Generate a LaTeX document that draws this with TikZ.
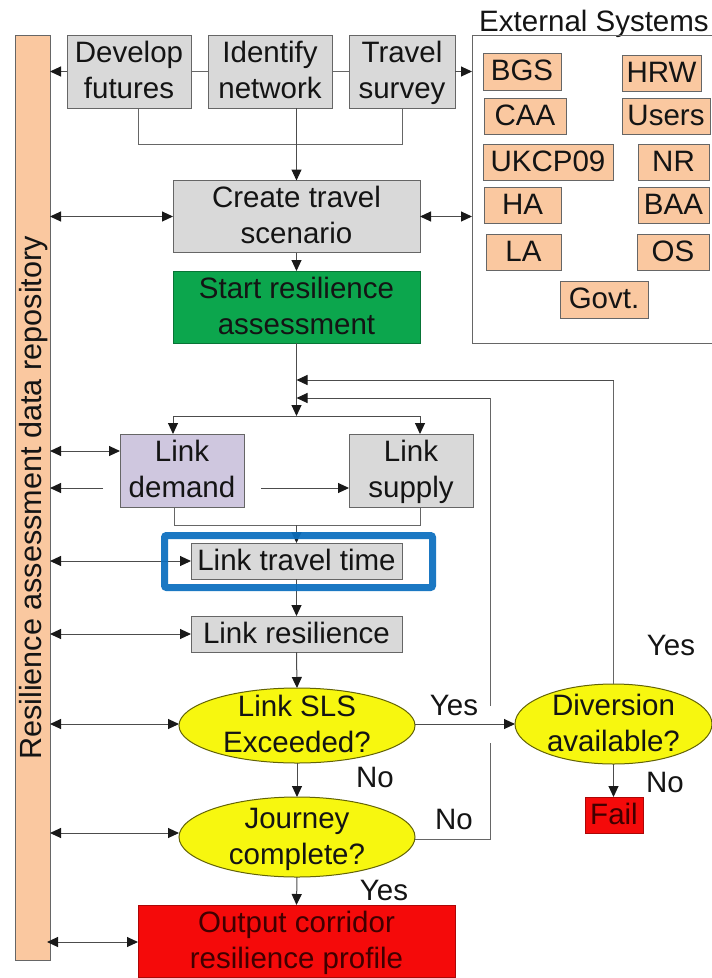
\documentclass[tikz,border=0pt]{standalone}
\usepackage{fontspec}
\setmainfont{Liberation Sans}
\usetikzlibrary{arrows.meta,shapes.geometric,calc}
\definecolor{peach}{HTML}{FAC8A0}
\definecolor{greybox}{HTML}{D9D9D9}
\definecolor{purplebox}{HTML}{CFC7DF}
\definecolor{greenbox}{HTML}{0CA64D}
\definecolor{redbox}{HTML}{F50A0A}
\definecolor{yellowbox}{HTML}{F7F70F}
\definecolor{edge}{HTML}{666666}
\definecolor{bluering}{HTML}{0A6EBE}
\definecolor{ink}{HTML}{141414}
\newcommand{\bx}[7]{\node[#6,minimum width={(#4-#2)*1pt},minimum height={(#5-#3)*1pt}] (#1) at ({(#2+#4)/2},{(#3+#5)/2}) {\rule[-8.8pt]{0pt}{36pt}#7\rule[-8.8pt]{0pt}{36pt}};}
\tikzset{
  x=1pt,y=-1pt,
  base/.style={draw=edge,line width=1pt,inner sep=0pt,outer sep=0pt,align=center,text=ink,font=\fontsize{29.5}{36}\selectfont},
  grey/.style={base,fill=greybox},
  purple/.style={base,fill=purplebox},
  green/.style={base,fill=greenbox,draw=greenbox!70!black},
  redb/.style={base,fill=redbox,draw=redbox!70!black,text=red!25!black},
  peachb/.style={base,fill=peach},
  oval/.style={base,ellipse,inner ysep=-20pt,fill=yellowbox,draw=yellowbox!40!black},
  lbl/.style={inner sep=0pt,anchor=base,text=ink,font=\fontsize{29.5}{36}\selectfont},
  line/.style={draw=edge,line width=1pt},
  arr/.style={draw=black!70,line width=1pt,-{Triangle[length=11pt,width=10pt,color=black!90]}},
  dbl/.style={draw=black!70,line width=1pt,{Triangle[length=11pt,width=10pt,color=black!90]}-{Triangle[length=11pt,width=10pt,color=black!90]}},
}
\begin{document}
\begin{tikzpicture}
\useasboundingbox (0,0) rectangle (712,978);
% boxes
\bx{repo}{15}{35}{50}{960}{peachb}{}
\node[lbl,anchor=center,rotate=90,font=\fontsize{30.6}{36}\selectfont] (repotext) at (34,498) {Resilience assessment data repository};
\bx{develop}{67}{35}{191}{108}{grey}{Develop\\futures}
\bx{identify}{208}{35}{332}{108}{grey}{Identify\\network}
\bx{survey}{349}{35}{455}{108}{grey}{Travel\\survey}
\bx{create}{173}{181}{420}{252}{grey}{Create travel\\scenario}
\bx{start}{173}{271}{420}{343}{green}{Start resilience\\assessment}
\bx{demand}{120}{434}{244}{507}{purple}{Link\\demand}
\bx{supply}{349}{434}{473}{507}{grey}{Link\\supply}
\bx{ltt}{191}{543}{402}{579}{grey}{Link travel time}
\bx{lres}{191}{616}{402}{652}{grey}{Link resilience}
\bx{sls}{179}{688}{415}{763}{oval}{Link SLS\\Exceeded?}
\bx{journey}{179}{797}{415}{877}{oval}{Journey\\complete?}
\bx{output}{138}{905}{455}{977}{redb}{Output corridor\\resilience profile}
\bx{div}{515}{684}{712}{764}{oval}{Diversion\\available?}
\bx{fail}{585}{797}{643}{833}{redb}{Fail}
% external systems
\node[lbl] (exttitle) at (594,31) {External Systems};
\coordinate (extTR) at (712,35);
\coordinate (extTL) at (472,35);
\coordinate (extBL) at (472,343);
\coordinate (extBR) at (712,343);
\draw[line] (extTR) -- (extTL) -- (extBL) -- (extBR);
\bx{bgs}{483}{53}{561}{90}{peachb}{BGS}
\bx{hrw}{622}{57}{701}{90}{peachb}{HRW}
\bx{caa}{484}{100}{566}{133}{peachb}{CAA}
\bx{users}{622}{100}{710}{133}{peachb}{Users}
\bx{ukcp}{483}{144}{613}{180}{peachb}{UKCP09}
\bx{nr}{638}{144}{709}{180}{peachb}{NR}
\bx{ha}{484}{187}{561}{223}{peachb}{HA}
\bx{baa}{638}{187}{709}{223}{peachb}{BAA}
\bx{la}{486}{234}{561}{270}{peachb}{LA}
\bx{os}{637}{234}{709}{270}{peachb}{OS}
\bx{govt}{560}{281}{648}{318}{peachb}{Govt.}
% labels
\node[lbl] (yes1) at (454,715) {Yes};
\node[lbl] (no1) at (375,787) {No};
\node[lbl] (no2) at (454,829) {No};
\node[lbl] (yes2) at (384,900) {Yes};
\node[lbl] (no3) at (665,792) {No};
\node[lbl] (yes3) at (671,655) {Yes};
% top row connectors
\draw[line] (develop.east) -- (identify.west);
\draw[line] (identify.east) -- (survey.west);
\draw[arr] (develop.west) -- (repo.east |- develop.west);
\draw[arr] (survey.east) -- (extTL |- survey.east);
\coordinate (mergeA) at (138,144);
\coordinate (mergeB) at (402,144);
\draw[line] (mergeA |- develop.south) -- (mergeA) -- (mergeB) -- (mergeB |- survey.south);
\draw[arr] (identify.south -| create.north) -- (create.north);
\draw[dbl] (repo.east |- create.west) -- (create.west);
\draw[dbl] (create.east) -- (extTL |- create.east);
\draw[arr] (create.south) -- (start.north);
% trunk
\coordinate (split) at (start.south |- 0,416);
\coordinate (backA) at (start.south |- 0,380);
\coordinate (backB) at (start.south |- 0,398);
\draw[arr] (start.south) -- (split);
\coordinate (demandIn) at (173,434);
\coordinate (supplyIn) at (420,434);
\draw[arr] (split) -- (demandIn |- split) -- (demandIn);
\draw[arr] (split) -- (supplyIn |- split) -- (supplyIn);
\draw[dbl] (repo.east |- 0,451) -- (demand.west |- 0,451);
\coordinate (demandOut) at (103,488);
\draw[arr] (demandOut) -- (repo.east |- demandOut);
\coordinate (supplyFrom) at (261,488);
\draw[arr] (supplyFrom) -- (supply.west |- supplyFrom);
\coordinate (joinA) at (174,525);
\coordinate (joinB) at (420,525);
\draw[line] (joinA |- demand.south) -- (joinA) -- (joinB) -- (joinB |- supply.south);
\draw[arr] (ltt.north |- joinA) -- (ltt.north);
\draw[dbl] (repo.east |- ltt.west) -- (ltt.west);
\draw[arr] (ltt.south) -- (lres.north);
\draw[dbl] (repo.east |- lres.west) -- (lres.west);
\draw[arr] (lres.south) -- (sls.north);
\draw[dbl] (repo.east |- 0,724) -- (sls.west |- 0,724);
\draw[arr] (sls.south) -- (journey.north);
\draw[dbl] (repo.east |- 0,833) -- (journey.west |- 0,833);
\draw[arr] (journey.south) -- (output.north);
\draw[dbl] (47,942) -- (output.west |- 0,942);
\draw[arr] (sls.east |- 0,724) -- (div.west |- 0,724);
\draw[arr] (div.south) -- (fail.north -| div.south);
% feedback
\draw[line] (div.north) -- (div.north |- backA);
\draw[arr] (div.north |- backA) -- (backA);
\coordinate (gapTop) at (490,706);
\coordinate (gapLow) at (490,743);
\draw[line] (gapTop) -- (gapTop |- backB);
\draw[arr] (gapTop |- backB) -- (backB);
\draw[line] (journey.east |- 0,839) -- (gapLow |- 0,839) -- (gapLow);
% highlight
\node[draw=bluering,line width=7pt,rounded corners=2pt,opacity=.93,minimum width=268pt,minimum height=52pt,inner sep=0pt] (ring) at (298.5,561.5) {};
\end{tikzpicture}
\end{document}
